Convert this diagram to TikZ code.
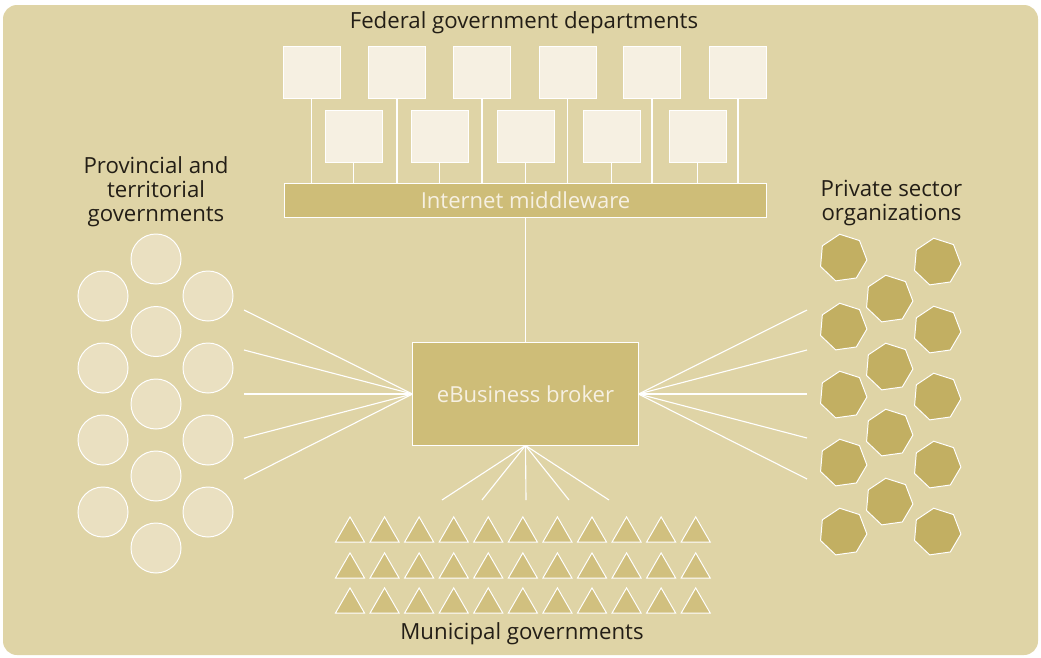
\documentclass[tikz,border=0pt]{standalone}
\usepackage{fontspec}
\setmainfont{Open Sans}
\usetikzlibrary{positioning, shapes.geometric}

\definecolor{paper}{RGB}{223,212,166}
\definecolor{gold}{RGB}{206,189,120}
\definecolor{olive}{RGB}{194,175,98}
\definecolor{cream}{RGB}{234,224,193}
\definecolor{ivory}{RGB}{246,240,226}
\definecolor{ink}{RGB}{35,30,22}

\tikzset{
  dept/.style={rectangle, draw=white, fill=ivory, line width=0.7pt, inner sep=0pt, minimum width=1.425cm, minimum height=1.3cm},
  prov/.style={circle, draw=white, fill=cream, line width=0.7pt, inner sep=0pt, minimum size=1.25cm},
  firm/.style={regular polygon, regular polygon sides=7, draw=white, fill=olive, line width=0.7pt, inner sep=0pt, minimum size=1.2cm, shape border rotate=8},
  city/.style={regular polygon, regular polygon sides=3, draw=white, fill=gold!85!paper, line width=0.7pt, inner sep=0pt, minimum size=0.84cm},
  hub/.style={rectangle, draw=white, fill=gold, line width=0.7pt, text=ivory, font=\fontsize{15.7}{18}\selectfont},
  link/.style={draw=white, line width=0.8pt},
  caption/.style={text=ink, font=\fontsize{15.8}{17}\selectfont, align=center}
}

\begin{document}
\begin{tikzpicture}[x=0.025cm, y=-0.025cm]
    \useasboundingbox (0,0) rectangle (1041,658);
    \fill[paper, rounded corners=0.35cm] (3,5) rectangle (1038,655);

    % federal departments and middleware
    \node[caption] (fedlabel) at (524,23) {Federal government departments};
    \node[dept] (d1) at (311.5,72) {};
    \node[dept] (d2) at (397,72) {};
    \node[dept] (d3) at (482,72) {};
    \node[dept] (d4) at (567.5,72) {};
    \node[dept] (d5) at (652,72) {};
    \node[dept] (d6) at (738,72) {};
    \node[dept] (d7) at (353.5,136) {};
    \node[dept] (d8) at (439.5,136) {};
    \node[dept] (d9) at (525.5,136) {};
    \node[dept] (d10) at (611.5,136) {};
    \node[dept] (d11) at (697.5,136) {};
    \node[hub, minimum width=12.025cm, minimum height=0.85cm] (mw) at (525.5,200) {Internet middleware};
    \foreach \i in {1,...,11}
        \draw[link] (d\i.south) -- (d\i.south |- mw.north);

    % broker
    \node[hub, minimum width=5.625cm, minimum height=2.55cm] (broker) at (525.5,394) {eBusiness broker};
    \draw[link] (mw.south) -- (broker.north);

    % provincial governments
    \node[caption] (provlabel) at (156,191.5) {Provincial and\\territorial\\governments};
    \foreach \y [count=\i] in {296,368,440,512} {
        \node[prov] (pa\i) at (103,\y) {};
        \node[prov] (pc\i) at (208,\y) {};
    }
    \foreach \y [count=\i] in {259,331.5,404,476,548}
        \node[prov] (pb\i) at (156,\y) {};

    % private sector
    \node[caption] (privlabel) at (891.5,203) {Private sector\\organizations};
    \foreach \y [count=\i] in {258,327,395,463,532}
        \node[firm] (fa\i) at (843,\y) {};
    \foreach \y [count=\i] in {299,367,433,502}
        \node[firm] (fb\i) at (889,\y) {};
    \foreach \y [count=\i] in {262,330,397,465,532}
        \node[firm] (fc\i) at (937,\y) {};

    % municipal governments
    \foreach \y [count=\r] in {533.7,569.7,604.7}
        \foreach \k in {0,...,10}
            \node[city] (m\r-\k) at (350+34.57*\k,\y) {};
    \node[caption] (munlabel) at (522,634) {Municipal governments};

    % fans to the broker
    \foreach \y [count=\i] in {310,350,394,438,479} {
        \coordinate (l\i) at (244,\y);
        \coordinate (r\i) at (807,\y);
        \draw[link] (broker.west) -- (l\i);
        \draw[link] (broker.east) -- (r\i);
    }
    \foreach \x [count=\i] in {442,482,526,569,609} {
        \coordinate (b\i) at (\x,500);
        \draw[link] (broker.south) -- (b\i);
    }
\end{tikzpicture}
\end{document}
